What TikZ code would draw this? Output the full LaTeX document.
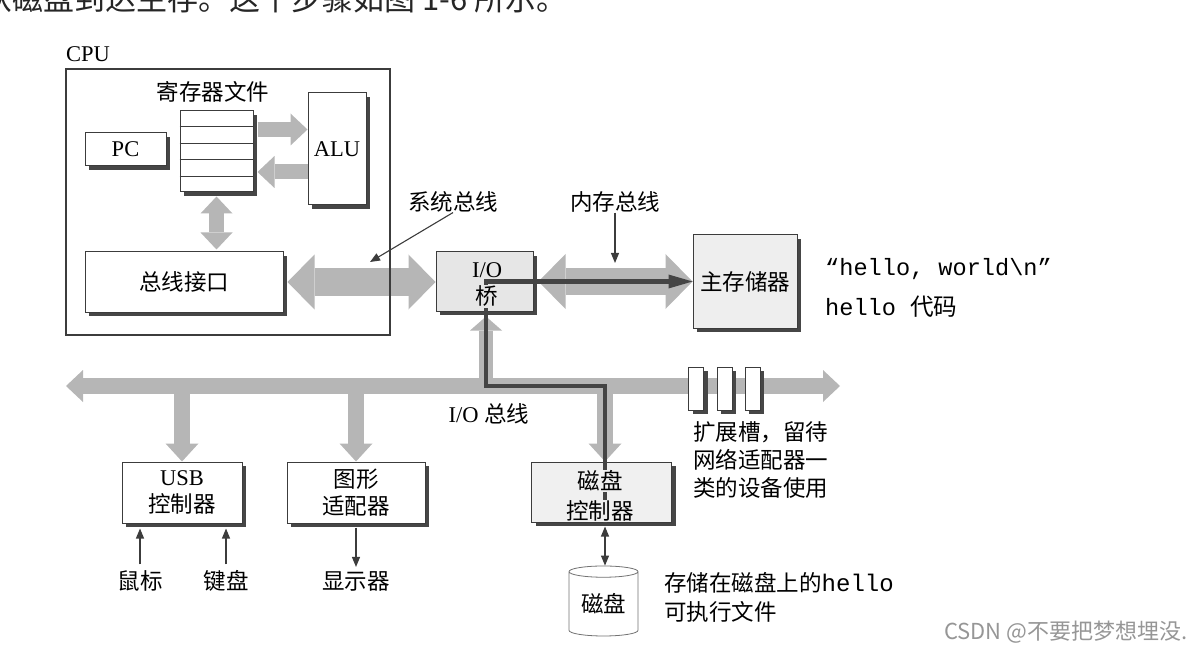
\documentclass[tikz,border=0pt]{standalone}
\usepackage{fontspec}
\setmainfont{Liberation Serif}
\setmonofont{Liberation Mono}
\newfontfamily\cjk{Noto Sans CJK SC}
\usetikzlibrary{positioning, arrows.meta, shadows, shapes.geometric, backgrounds, calc}
\definecolor{Cbus}{RGB}{182,182,182}
\definecolor{Cbr}{RGB}{230,230,230}
\definecolor{Cmem}{RGB}{238,238,238}
\definecolor{Cdc}{RGB}{240,240,240}
\definecolor{Cshd}{RGB}{70,70,70}
\definecolor{Cdat}{RGB}{68,68,68}
\definecolor{Cln}{RGB}{60,60,60}
\definecolor{Cwm}{RGB}{150,150,150}
\tikzset{
  bx/.style n args={1}{draw=Cln, fill=#1, line width=1pt, inner sep=0pt,
    general shadow={fill=Cshd, shadow xshift=4pt, shadow yshift=-4pt}},
  lbl/.style={inner sep=0pt, align=center, font=\fontsize{22.5}{27}\selectfont},
  cl/.style={inner sep=0pt, align=center, font=\cjk\fontsize{22.5}{27}\selectfont},
  sbus/.style={draw=Cbus, line width=27pt,
    {Triangle[length=27pt, width=55pt, line width=0pt]}-{Triangle[length=27pt, width=55pt, line width=0pt]}},
  ibus/.style={draw=Cbus, line width=16pt,
    {Triangle[length=17pt, width=32pt, line width=0pt]}-{Triangle[length=17pt, width=32pt, line width=0pt]}},
  dn/.style={draw=Cbus, line width=16pt, -{Triangle[length=18pt, width=33pt, line width=0pt]}},
  ua/.style={draw=Cbus, line width=14pt, -{Triangle[length=14pt, width=32pt, line width=0pt]}},
  cpa/.style={draw=Cbus, line width=15pt, -{Triangle[length=17pt, width=32pt, line width=0pt]}},
  cpb/.style={draw=Cbus, line width=15pt,
    {Triangle[length=17pt, width=32pt, line width=0pt]}-{Triangle[length=17pt, width=32pt, line width=0pt]}},
  dat/.style={draw=Cdat, line width=4pt, line join=miter,
    -{Triangle[length=24pt, width=14pt, line width=0pt]}},
  ar/.style={draw=Cln, line width=1.1pt, -{Triangle[length=10pt, width=8pt]}},
  arb/.style={draw=Cln, line width=1.1pt,
    {Triangle[length=10pt, width=8pt]}-{Triangle[length=10pt, width=8pt]}}
}

\begin{document}
\begin{tikzpicture}[x=1pt, y=-1pt]
\useasboundingbox (0,0) rectangle (1196,652);

% caption line, cut off at the top edge
\node[anchor=base west, inner sep=0pt, text=black!85,
      font=\cjk\fontsize{31}{33}\selectfont] (capt) at (-19,11)
  {从磁盘到达主存。这个步骤如图 1-6 所示。};

% ---------------- CPU ----------------
\node[draw=Cln, line width=2.2pt, minimum width=324pt, minimum height=266pt,
      inner sep=0pt] (cpu) at (228,202) {};
\node[lbl, anchor=base west] (cpul) at (66,62) {CPU};

\node[bx={white}, minimum width=73pt, minimum height=81pt] (regf) at (216.5,151.5) {};
\foreach \i in {1,...,4}
  \draw[Cln, line width=0.8pt] ($(regf.north west)!\i/5!(regf.south west)$)
    -- ($(regf.north east)!\i/5!(regf.south east)$);
\node[cl] (regl) at (213,92) {寄存器文件};

\node[bx={white}, lbl, minimum width=81pt, minimum height=33pt] (pc) at (125.5,149.5) {PC};
\node[bx={white}, lbl, minimum width=58pt, minimum height=112pt] (alu) at (337,149) {ALU};
\node[bx={white}, cl, minimum width=198pt, minimum height=60pt] (bif) at (184,282) {总线接口};

% ---------------- bridge / memory ----------------
\node[bx={Cbr}, minimum width=97pt, minimum height=59pt] (brg) at (484.5,281.5) {};
\node[bx={Cmem}, cl, minimum width=104pt, minimum height=93pt] (mem) at (745,281.5) {主存储器};

\node[cl] (sysl) at (453,202) {系统总线};
\node[cl] (meml) at (615,202) {内存总线};
\coordinate (sysp) at (370,262);
\coordinate (memp) at (615,263);
\draw[ar] (sysl.south) -- (sysp);
\draw[ar] (meml.south) -- (memp);

\node[anchor=base west, inner sep=0pt, font=\ttfamily\fontsize{23.6}{27}\selectfont]
  (hw) at (825,276) {“hello, world\textbackslash n”};
\node[anchor=base west, inner sep=0pt, font=\ttfamily\fontsize{23.6}{27}\selectfont]
  (hc) at (825,315) {hello {\cjk 代码}};

% ---------------- I/O devices ----------------
\node[bx={white}, lbl, minimum width=120pt, minimum height=61pt] (usb) at (182,492.5)
  {USB\\{\cjk 控制器}};
\node[bx={white}, cl, minimum width=138pt, minimum height=61pt] (gfx) at (356,492.5)
  {图形\\适配器};
\node[bx={Cdc}, minimum width=140pt, minimum height=60pt] (dctl) at (601.5,492) {};
\foreach \x [count=\i] in {696,724.5,752.5}
  \node[bx={white}, minimum width=15pt, minimum height=43pt] (slot\i) at (\x,388.5) {};
\node[cylinder, shape border rotate=90, aspect=0.25, draw=black!55, line width=0.8pt,
      fill=white, cl, minimum width=69pt, minimum height=70pt] (disk) at (603.5,604) {磁盘};

\coordinate (iobL) at (66,386);
\coordinate (iobR) at (840,386);
\coordinate (btap) at (486,386);
\coordinate (dtap) at (605,386);

% fat buses behind everything
\begin{scope}[on background layer]
  \draw[cpa] ($(regf.east)+(4,-22)$) -- ($(alu.west)+(0,-19.5)$);
  \draw[cpa] ($(alu.west)+(0,23)$) -- ($(regf.east)+(4,20.5)$);
  \draw[cpb, shorten <=4pt, shorten >=2pt] (regf.south) -- (regf.south |- bif.north);
  \draw[sbus] ($(bif.east)+(4,0)$) -- (brg.west |- bif.east);
  \draw[sbus] ($(brg.east)+(5,0)$) -- (mem.west |- brg.east);
  \draw[ibus] (iobL) -- (iobR);
  \draw[dn] (usb.north |- iobL) -- (usb.north);
  \draw[dn] (gfx.north |- iobL) -- (gfx.north);
  \draw[dn] (dtap) -- (dtap |- dctl.north);
  \draw[ua, shorten >=5pt] (btap) -- (btap |- brg.south);
\end{scope}

% data path disk -> memory
\draw[dat] (dtap |- dctl.south) -- (dtap) -- (btap) -- (btap |- mem.west) -- (mem.west);

\node[lbl] (brgt) at (487,270) {I/O};
\node[cl, fill=Cbr, inner sep=1pt] (brgq) at (487,296.5) {桥};
\node[cl, fill=Cdc, inner sep=1pt] (dctt) at (600,481) {磁盘};
\node[cl, fill=Cdc, inner sep=1pt] (dctq) at (600,511) {控制器};

% ---------------- labels ----------------
\node[lbl] (iol) at (489,414) {I/O {\cjk 总线}};
\node[cl, anchor=west, align=left, font=\cjk\fontsize{22.5}{28}\selectfont] (slotc)
  at (693,460) {扩展槽，留待\\网络适配器一\\类的设备使用};

\node[cl] (mouse) at (140,581) {鼠标};
\node[cl] (kbd) at (226,581) {键盘};
\node[cl] (disp) at (356,581) {显示器};
\draw[ar, shorten <=6pt, shorten >=5pt] (mouse.north) -- (mouse.north |- usb.south);
\draw[ar, shorten <=6pt, shorten >=5pt] (kbd.north) -- (kbd.north |- usb.south);
\draw[ar, shorten <=4pt, shorten >=4pt] (gfx.south) -- (disp.north);
\draw[arb, shorten <=4pt] (dtap |- dctl.south) -- (dtap |- disk.north);

\node[cl, anchor=west, align=left, font=\cjk\fontsize{22.5}{29}\selectfont] (diskc)
  at (664,597.5) {存储在磁盘上的{\ttfamily\fontsize{24}{29}\selectfont hello}\\可执行文件};

\node[anchor=west, inner sep=0pt, text=Cwm, font=\cjk\fontsize{22}{24}\selectfont] (wm)
  at (944,632) {CSDN @不要把梦想埋没.};

\end{tikzpicture}
\end{document}
